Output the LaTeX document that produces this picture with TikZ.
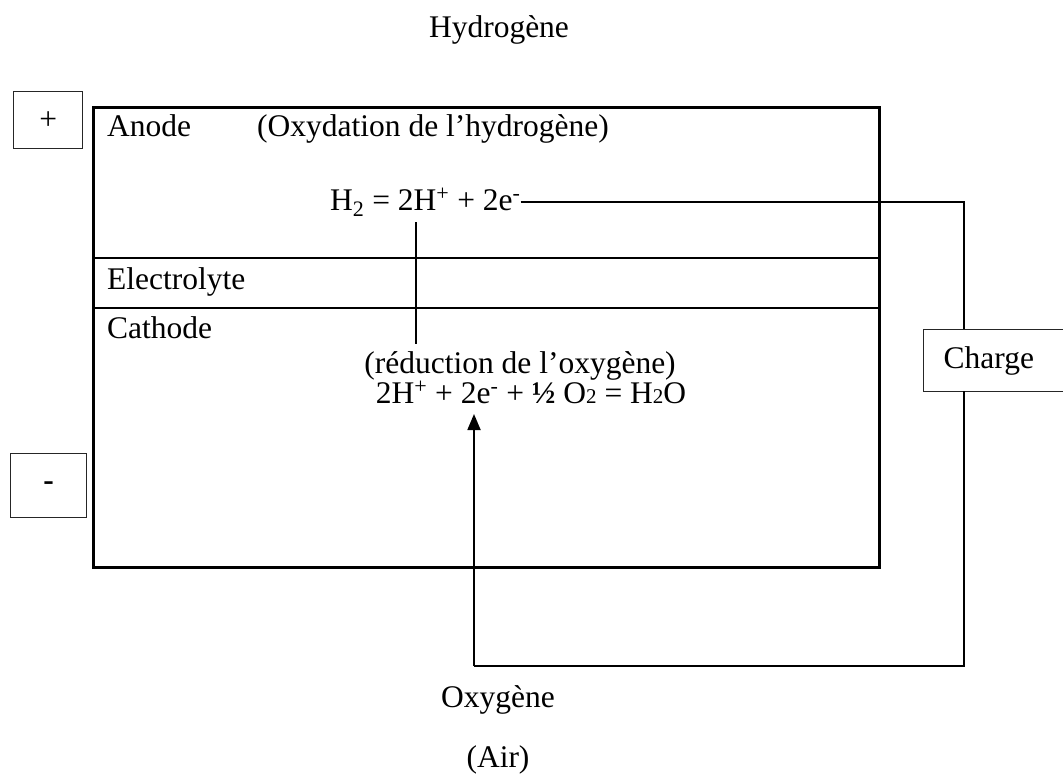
\documentclass[tikz,border=0pt]{standalone}
\usepackage{fontspec}
\setmainfont{Liberation Serif}
\usetikzlibrary{arrows.meta}
\newcommand\smalldigit[1]{{\fontsize{21}{21}\selectfont #1}}
\begin{document}
\begin{tikzpicture}[x=1pt,y=-1pt,
  txt/.style={inner sep=0pt, font=\fontsize{31.5}{36}\selectfont},
  cell/.style={draw, line width=2.5pt},
  wire/.style={draw, line width=1.8pt},
  smallbox/.style={draw, line width=1.4pt, draw=black!85},
  arrowline/.style={wire, -{Triangle[length=16pt,width=13pt]}}]
\useasboundingbox (0,0) rectangle (1063,780);

% main cell
\node[cell, anchor=north west, minimum width=786pt, minimum height=460pt, inner sep=0pt] (cellbox) at (92,106) {};
\coordinate (s1) at (0,258);
\coordinate (s2) at (0,308);
\draw[cell] (cellbox.west |- s1) -- (cellbox.east |- s1);
\draw[cell] (cellbox.west |- s2) -- (cellbox.east |- s2);

% texts
\node[txt, anchor=base] (hyd) at (499,37) {Hydrogène};
\node[txt, anchor=base west] (anode) at (107,136) {Anode};
\node[txt, anchor=base west] (oxyd) at (257,136) {(Oxydation de l’hydrogène)};
\node[txt, anchor=base west] (eqA) at (330,210) {H\textsubscript{2} = 2H\textsuperscript{+} + 2e\textsuperscript{-}};
\node[txt, anchor=base west] (elec) at (107,289) {Electrolyte};
\node[txt, anchor=base west] (cath) at (107,338) {Cathode};
\node[txt, anchor=base] (red) at (520,373) {(réduction de l’oxygène)};
\node[txt, anchor=base] (eqC) at (531,403) {2H\textsuperscript{+} + 2e\textsuperscript{-} + \textbf{½} O\smalldigit{2} = H\smalldigit{2}O};
\node[txt, anchor=base] (oxy) at (498,707) {Oxygène};
\node[txt, anchor=base] (air) at (498,767) {(Air)};

% terminals
\node[smallbox, txt, anchor=north west, minimum width=69pt, minimum height=57pt] (plus) at (13,91) {+};
\node[smallbox, txt, anchor=north west, minimum width=76pt, minimum height=64pt] (minus) at (10,453) {\textbf{-}};

% load
\node[smallbox, txt, anchor=north west, minimum height=62pt, inner xsep=20pt, text width=105pt, align=left] (charge) at (923,329) {Charge};

% wires
\coordinate (cIn) at (964,329);
\coordinate (cOut) at (964,391);
\coordinate (oxIn) at (474,666);
\coordinate (tip) at (474,414);
\coordinate (ionTop) at (416,222);
\coordinate (ionBot) at (416,344);
\draw[wire] (eqA.east) -| (cIn);
\draw[wire] (cOut) |- (oxIn);
\draw[arrowline] (oxIn) -- (tip);
\draw[wire] (ionTop) -- (ionBot);
\end{tikzpicture}
\end{document}
